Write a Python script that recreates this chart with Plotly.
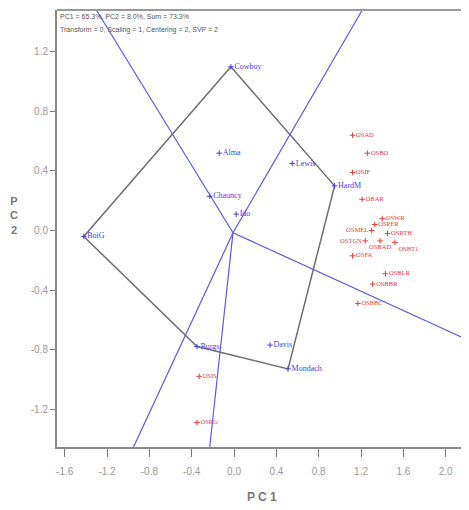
import plotly.graph_objects as go

# Environments (blue)
env_names = ["Cowboy", "Alma", "Lewis", "HardM", "Chauncy", "Ido", "BoiG", "Burgs", "Davis", "Mondach"]
env_x = [-0.03, -0.14, 0.55, 0.95, -0.23, 0.02, -1.42, -0.35, 0.34, 0.51]
env_y = [1.10, 0.52, 0.45, 0.30, 0.23, 0.11, -0.04, -0.78, -0.77, -0.93]

# Genotypes (red)
gen_names = ["OSAD", "OSBO", "OSIF", "OBAR", "OSWR", "OSPER", "OSMEL", "OSRTH", "OSTGN",
             "OSBAD", "OSBT1", "OSFA", "OSBLR", "OSBBR", "OSBBC", "OSIS", "OSRG"]
gen_x = [1.12, 1.26, 1.12, 1.21, 1.40, 1.33, 1.30, 1.45, 1.24, 1.38, 1.52, 1.12, 1.43, 1.31, 1.17, -0.33, -0.35]
gen_y = [0.64, 0.52, 0.39, 0.21, 0.08, 0.04, 0.00, -0.02, -0.07, -0.07, -0.08, -0.17, -0.29, -0.36, -0.49, -0.98, -1.29]
gen_textpos = ["middle right"] * 6 + ["middle left", "middle right", "middle left", "bottom center",
               "bottom right"] + ["middle right"] * 6

# Polygon (convex hull) vertices order
hull_names = ["Cowboy", "HardM", "Mondach", "Burgs", "BoiG", "Cowboy"]

# Ray end points (from biplot origin)
origin = (-0.01, -0.015)
ray_x = [-1.30, 2.22, 1.21, -0.95, -0.23]
ray_y = [1.48, -0.74, 1.48, -1.455, -1.455]

# Ticks
x_ticks = [-1.6, -1.2, -0.8, -0.4, 0.0, 0.4, 0.8, 1.2, 1.6, 2.0]
x_tick_labels = ["-1.6", "-1.2", "-0.8", "-0.4", "0.0", "0.4", "0.8", "1.2", "1.6", "2.0"]
y_ticks = [-1.2, -0.8, -0.4, 0.0, 0.4, 0.8, 1.2]
y_tick_labels = ["-1.2", "-0.8", "-0.4", "0.0", "0.4", "0.8", "1.2"]

BLUE = "#3f3fe0"
RED = "#e23b3b"
GRAY = "#6e6e6e"

fig = go.Figure()

# rays
for rx, ry in zip(ray_x, ray_y):
    fig.add_trace(go.Scatter(x=[origin[0], rx], y=[origin[1], ry], mode="lines",
                             line=dict(color="#5a5ae8", width=1.2), hoverinfo="skip", showlegend=False))

# hull
idx = {n: i for i, n in enumerate(env_names)}
fig.add_trace(go.Scatter(x=[env_x[idx[n]] for n in hull_names], y=[env_y[idx[n]] for n in hull_names],
                         mode="lines", line=dict(color=GRAY, width=1.5), showlegend=False, hoverinfo="skip"))

# environments
fig.add_trace(go.Scatter(x=env_x, y=env_y, mode="markers+text", text=env_names,
                         textposition="middle right", textfont=dict(family="Liberation Serif", size=8, color=BLUE),
                         marker=dict(symbol="cross-thin", size=4, line=dict(color=BLUE, width=1)),
                         showlegend=False))

# genotypes
fig.add_trace(go.Scatter(x=gen_x, y=gen_y, mode="markers+text", text=gen_names,
                         textposition=gen_textpos, textfont=dict(family="Liberation Serif", size=6.5, color=RED),
                         marker=dict(symbol="cross-thin", size=4, line=dict(color=RED, width=1)),
                         showlegend=False))

# The page body has an 8px margin; size the figure so the plot lands where the reference has it.
fig.update_layout(
    width=461, height=502,
    margin=dict(l=49, r=0, t=2, b=63, autoexpand=False),
    paper_bgcolor="white", plot_bgcolor="white",
    font=dict(family="Liberation Sans", color="#777777"),
    xaxis=dict(range=[-1.673, 2.22], tickvals=x_ticks, ticktext=x_tick_labels, automargin=False,
               showgrid=False, zeroline=False, showline=True, linecolor="#8a8a8a", linewidth=2,
               ticks="outside", ticklen=8, tickcolor="#777777", ticklabelstandoff=6,
               tickfont=dict(size=10, color="#999999")),
    yaxis=dict(range=[-1.455, 1.482], tickvals=y_ticks, ticktext=y_tick_labels, automargin=False,
               showgrid=False, zeroline=False, showline=True, linecolor="#8a8a8a", linewidth=2,
               ticks="outside", ticklen=5, tickcolor="#777777", tickfont=dict(size=10, color="#999999")),
    shapes=[dict(type="line", xref="paper", yref="paper", x0=0, x1=1, y0=1, y1=1,
                 line=dict(color="#9a9a9a", width=2))],
    annotations=[
        dict(text="<b>P C 1</b>", xref="paper", yref="paper", x=0.4976, y=-0.114,
             xanchor="center", yanchor="middle", showarrow=False, font=dict(size=12, color="#777777")),
        dict(text="<b>P<br>C<br>2</b>", xref="paper", yref="paper", x=-0.105, y=0.53,
             xanchor="center", yanchor="middle",
             showarrow=False, font=dict(size=11, color="#777777"), align="center"),
        dict(text="PC1 = 65.3%, PC2 = 8.0%, Sum = 73.3%", xref="paper", yref="paper", x=0.003, y=0.997,
             xanchor="left", yanchor="top", showarrow=False, font=dict(size=7, color="#555555")),
        dict(text="Transform = 0, Scaling = 1, Centering = 2, SVP = 2", xref="paper", yref="paper", x=0.003, y=0.968,
             xanchor="left", yanchor="top", showarrow=False, font=dict(size=7, color="#555555")),
    ],
)

fig.write_html("out.html")
